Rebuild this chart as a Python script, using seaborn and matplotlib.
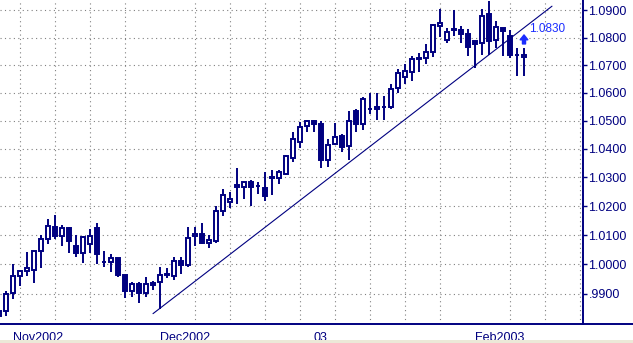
import numpy as np
import pandas as pd
import matplotlib
matplotlib.use("Agg")
import matplotlib.pyplot as plt
import seaborn as sns
from matplotlib.ticker import FixedLocator, NullLocator, NullFormatter
from matplotlib.lines import Line2D
from matplotlib.patches import Rectangle

# ---------------- data ----------------
dates = pd.bdate_range("2002-10-30", "2003-02-12")  # 76 daily sessions

opens = [0.9826, 0.9842, 0.9902, 0.9962, 0.9978, 0.9982, 1.0046, 1.0087, 1.0128, 1.0098,
         1.0124, 1.0063, 1.0037, 1.0069, 1.0124, 1.0009, 1.0008, 1.0020, 0.9963, 0.9911,
         0.9934, 0.9904, 0.9937, 0.9939, 0.9963, 0.9962, 1.0010, 0.9997, 1.0095, 1.0103,
         1.0072, 1.0078, 1.0184, 1.0214, 1.0273, 1.0266, 1.0283, 1.0269, 1.0262, 1.0299,
         1.0297, 1.0312, 1.0369, 1.0424, 1.0480, 1.0500, 1.0488, 1.0361, 1.0418, 1.0445,
         1.0411, 1.0536, 1.0488, 1.0541, 1.0540, 1.0548, 1.0549, 1.0618, 1.0658, 1.0675,
         1.0726, 1.0726, 1.0748, 1.0841, 1.0790, 1.0830, 1.0829, 1.0815, 1.0787, 1.0781,
         1.0887, 1.0790, 1.0835, 1.0807, 1.0737, 1.0731]
highs = [0.9850, 0.9911, 1.0000, 0.9982, 1.0043, 1.0047, 1.0101, 1.0155, 1.0170, 1.0136,
         1.0128, 1.0101, 1.0098, 1.0121, 1.0141, 1.0045, 1.0034, 1.0022, 0.9965, 0.9941,
         0.9941, 0.9957, 0.9943, 0.9990, 0.9986, 1.0025, 1.0025, 1.0128, 1.0128, 1.0143,
         1.0101, 1.0199, 1.0259, 1.0247, 1.0331, 1.0285, 1.0291, 1.0283, 1.0318, 1.0326,
         1.0326, 1.0377, 1.0460, 1.0494, 1.0504, 1.0502, 1.0500, 1.0436, 1.0492, 1.0454,
         1.0534, 1.0540, 1.0586, 1.0600, 1.0600, 1.0588, 1.0632, 1.0686, 1.0702, 1.0734,
         1.0744, 1.0778, 1.0849, 1.0904, 1.0837, 1.0902, 1.0844, 1.0832, 1.0789, 1.0904,
         1.0935, 1.0863, 1.0837, 1.0829, 1.0763, 1.0763]
lows = [0.9815, 0.9826, 0.9883, 0.9928, 0.9960, 0.9936, 0.9986, 1.0069, 1.0086, 1.0061,
        1.0039, 1.0025, 1.0005, 1.0037, 1.0002, 0.9991, 0.9974, 0.9958, 0.9888, 0.9891,
        0.9871, 0.9891, 0.9913, 0.9850, 0.9955, 0.9947, 0.9968, 0.9991, 1.0063, 1.0068,
        1.0055, 1.0072, 1.0164, 1.0193, 1.0208, 1.0224, 1.0201, 1.0241, 1.0216, 1.0239,
        1.0276, 1.0308, 1.0355, 1.0402, 1.0460, 1.0460, 1.0331, 1.0335, 1.0413, 1.0390,
        1.0359, 1.0458, 1.0467, 1.0522, 1.0501, 1.0501, 1.0542, 1.0600, 1.0630, 1.0642,
        1.0675, 1.0702, 1.0731, 1.0801, 1.0781, 1.0805, 1.0781, 1.0732, 1.0690, 1.0738,
        1.0738, 1.0763, 1.0732, 1.0727, 1.0662, 1.0662]
closes = [0.9842, 0.9899, 0.9959, 0.9979, 0.9989, 1.0045, 1.0086, 1.0132, 1.0095, 1.0124,
          1.0078, 1.0037, 1.0092, 1.0095, 1.0035, 1.0007, 1.0020, 0.9963, 0.9911, 0.9934,
          0.9902, 0.9934, 0.9929, 0.9963, 0.9966, 1.0010, 0.9999, 1.0090, 1.0103, 1.0072,
          1.0084, 1.0184, 1.0239, 1.0224, 1.0266, 1.0283, 1.0266, 1.0271, 1.0233, 1.0301,
          1.0320, 1.0375, 1.0436, 1.0478, 1.0500, 1.0488, 1.0361, 1.0413, 1.0442, 1.0406,
          1.0500, 1.0488, 1.0578, 1.0543, 1.0549, 1.0550, 1.0614, 1.0672, 1.0680, 1.0722,
          1.0722, 1.0748, 1.0847, 1.0853, 1.0821, 1.0828, 1.0813, 1.0766, 1.0777, 1.0880,
          1.0789, 1.0839, 1.0823, 1.0736, 1.0735, 1.0738]

# trend line (session index, price)
trend_pos = [22.0, 79.0]
trend_val = [0.9834, 1.0916]

ytick_vals = [0.99, 1.00, 1.01, 1.02, 1.03, 1.04, 1.05, 1.06, 1.07, 1.08, 1.09]
ytick_labels = [".9900", "1.0000", "1.0100", "1.0200", "1.0300", "1.0400",
                "1.0500", "1.0600", "1.0700", "1.0800", "1.0900"]
month_labels = ["Nov2002", "Dec2002", "03", "Feb2003"]
last_price_label = "1.0830"
last_price = 1.0830
arrow_from, arrow_to = 1.0777, 1.0810

# ---------------- style ----------------
sns.set_style("white")
plt.rcParams["font.family"] = ["Liberation Sans", "DejaVu Sans"]
NAVY = "#000080"
BLUE = "#1a2cff"

W, H = 633, 343
fig = plt.figure(figsize=(W / 100, H / 100), dpi=100)
fig.patch.set_facecolor("white")
ax = fig.add_axes([0, 19 / H, 583 / W, 324 / H])
ax.set_facecolor("white")

df = pd.DataFrame({"date": dates, "open": opens, "high": highs,
                   "low": lows, "close": closes})
df["pos"] = np.arange(len(df))
up = df["close"] >= df["open"]

# wicks
ax.vlines(df["pos"], df["low"], df["high"], color=NAVY, linewidth=1.4, zorder=3)
# bodies
body_lo = np.minimum(df["open"], df["close"])
body_h = np.abs(df["close"] - df["open"])
ax.bar(df["pos"][up], body_h[up], bottom=body_lo[up], width=0.62,
       facecolor="white", edgecolor=NAVY, linewidth=1.4, zorder=4)
ax.bar(df["pos"][~up], body_h[~up], bottom=body_lo[~up], width=0.62,
       facecolor=NAVY, edgecolor=NAVY, linewidth=1.4, zorder=4)

# trend line via seaborn
trend_df = pd.DataFrame({"pos": trend_pos, "val": trend_val})
sns.lineplot(data=trend_df, x="pos", y="val", ax=ax, color=NAVY, linewidth=0.8, zorder=2)

ax.set_yscale("log")
ax.set_xlim(1 / 7, 584 / 7)
ax.set_ylim(0.97995, 1.09389)
ax.set_xlabel("")
ax.set_ylabel("")

# y axis on right
ax.yaxis.tick_right()
ax.yaxis.set_major_locator(FixedLocator(ytick_vals))
ax.yaxis.set_minor_locator(NullLocator())
ax.yaxis.set_minor_formatter(NullFormatter())
ax.set_yticklabels(ytick_labels)
ax.tick_params(axis="y", which="major", direction="out", length=3, width=1,
               color=NAVY, labelcolor=NAVY, labelsize=9, pad=1,
               right=True, left=False)

# x axis: month ticks (major, labelled) and weekly Monday ticks (minor, grid)
ext = pd.bdate_range("2002-10-30", "2003-03-07")
ext_pos = np.arange(len(ext))
month_first = [int(ext_pos[(ext.month == m) & (ext.year == y)][0])
               for y, m in [(2002, 11), (2002, 12), (2003, 1), (2003, 2)]]
mondays = [int(p) for p, d in zip(ext_pos, ext) if d.dayofweek == 0 and p <= 83]
ax.xaxis.set_major_locator(FixedLocator(month_first))
ax.xaxis.set_minor_locator(FixedLocator(mondays))
ax.set_xticklabels(month_labels, ha="left")
for t in ax.get_xticklabels():
    t.set_x(t.get_position()[0])
ax.tick_params(axis="x", which="major", direction="out", length=6, width=1,
               color=NAVY, labelcolor=NAVY, labelsize=9, pad=0)
ax.tick_params(axis="x", which="minor", direction="out", length=2.5, width=1,
               color=NAVY)

# grid
ax.grid(False)
ax.yaxis.grid(True, which="major", color="#808080", linestyle=(0, (1, 3)), linewidth=0.8)
ax.xaxis.grid(True, which="minor", color="#808080", linestyle=(0, (1, 3)), linewidth=0.8)
ax.set_axisbelow(True)

# spines
for s in ["top", "left"]:
    ax.spines[s].set_visible(False)
for s in ["right", "bottom"]:
    ax.spines[s].set_visible(True)
    ax.spines[s].set_color(NAVY)
    ax.spines[s].set_linewidth(1.4)

# extend bottom axis line across the label margin
fig.add_artist(Line2D([583 / W, 1], [19 / H, 19 / H], transform=fig.transFigure,
                      color=NAVY, linewidth=1.4))
# window bottom strip
fig.add_artist(Rectangle((0, 0), 1, 3 / H, transform=fig.transFigure,
                         facecolor="#ece9d8", edgecolor="none"))

# last price arrow + label
last_pos = df["pos"].iloc[-1]
ax.annotate("", xy=(last_pos, arrow_to), xytext=(last_pos, arrow_from),
            arrowprops=dict(arrowstyle="simple,head_width=0.55,head_length=0.35,tail_width=0.22",
                            color=BLUE, shrinkA=0, shrinkB=0, mutation_scale=10),
            zorder=6)
ax.text(last_pos + 0.7, last_price, last_price_label, color=BLUE, fontsize=8.5,
        ha="left", va="center", zorder=6)

fig.savefig("out.png", dpi=100, facecolor="white")
